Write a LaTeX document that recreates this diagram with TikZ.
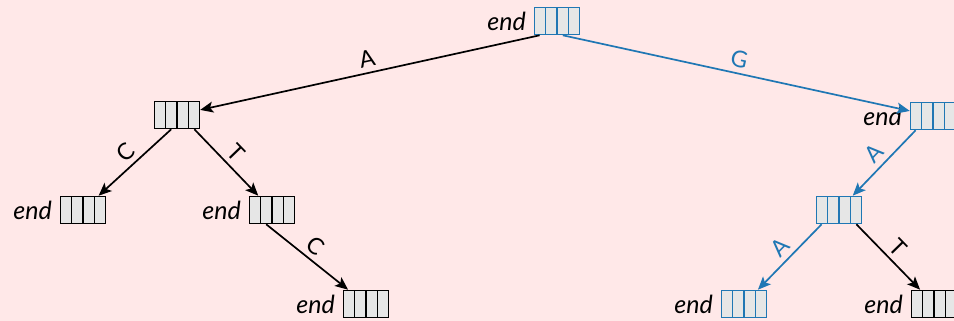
\documentclass[tikz,border=0pt]{standalone}
\usepackage{fontspec}
\setmainfont{Lato}
\usetikzlibrary{shapes.multipart, arrows.meta}

\definecolor{bgpink}{RGB}{255,232,232}
\definecolor{cellgray}{RGB}{230,230,230}
\definecolor{pathblue}{RGB}{31,119,180}

% one blank slot of a trie node, and all four of them (A C G T)
\newcommand{\slot}{\makebox[5pt]{\rule[-4.5pt]{0pt}{13.5pt}}}
\newcommand{\slots}{\slot\nodepart{two}\slot\nodepart{three}\slot\nodepart{four}\slot}

\begin{document}
\begin{tikzpicture}[
    x=0.5pt, y=-0.5pt,
    font=\fontsize{11.5}{13}\selectfont,
    trienode/.style={rectangle split, rectangle split horizontal, rectangle split parts=4,
        inner sep=0pt, draw, line width=0.8pt, fill=cellgray},
    hl/.style={draw=pathblue},
    endword/.style={label={[font=\fontsize{12.5}{14}\selectfont\itshape, label distance=0.5pt]left:end}},
    arrow/.style={-{Stealth[length=6.5pt, width=5.5pt, inset=1.5pt]}, line width=0.85pt},
    bluearrow/.style={arrow, pathblue},
    letter/.style={midway, sloped, above, inner sep=2.5pt}
]

% Background
\fill [bgpink] (0,0) rectangle (954,321);
\useasboundingbox (0,0) rectangle (954,321);

% Nodes
\node (root) [trienode, hl, endword] at (557,21) {\slots};

\node (a) [trienode] at (177,115) {\slots};
\node (g) [trienode, hl, endword] at (933,116) {\slots};

\node (ac) [trienode, endword] at (83,210) {\slots};
\node (at) [trienode, endword] at (272,210) {\slots};
\node (ga) [trienode, hl] at (839,210) {\slots};

\node (atc) [trienode, endword] at (366,304) {\slots};
\node (gaa) [trienode, hl, endword] at (744,304) {\slots};
\node (gat) [trienode, endword] at (934,304) {\slots};

% Edges, one per letter cell (A C G T)
\draw [arrow] (root.one south) -- (a) node [letter] {A};
\draw [bluearrow] (root.three south) -- (g) node [letter] {G};

\draw [arrow] (a.two south) -- (ac) node [letter] {C};
\draw [arrow] (a.four south) -- (at) node [letter] {T};
\draw [arrow] (at.two south) -- (atc) node [letter] {C};

\draw [bluearrow] (g.one south) -- (ga) node [letter] {A};
\draw [bluearrow] (ga.one south) -- (gaa) node [letter] {A};
\draw [arrow] (ga.four south) -- (gat) node [letter] {T};

\end{tikzpicture}
\end{document}
